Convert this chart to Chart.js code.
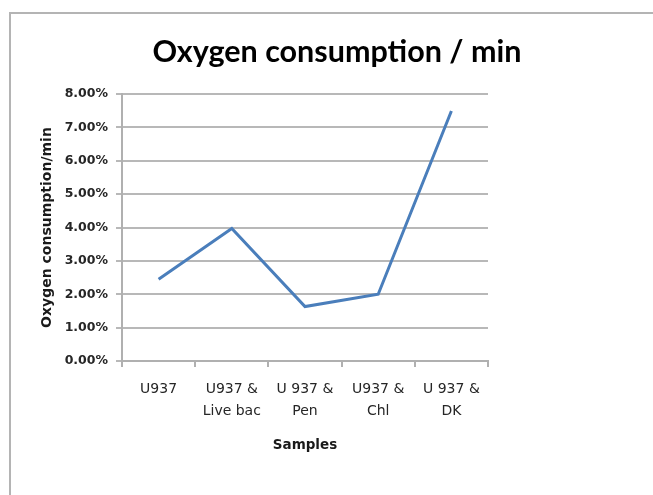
<!DOCTYPE html>
<html>
<head>
<meta charset="utf-8">
<script src="https://cdn.jsdelivr.net/npm/chart.js@4"></script>
<style>
  html, body { margin: 0; padding: 0; background: #fff; }
  #wrap { position: relative; width: 653px; height: 495px; }
  #frame { position: absolute; left: 9px; top: 12px; right: -4px; bottom: -4px; border: 2px solid #b4b4b4; }
  canvas { position: absolute; left: 0; top: 0; }
</style>
</head>
<body>
<div id="wrap">
  <div id="frame"></div>
  <canvas id="chart" width="653" height="495"></canvas>
</div>
<script>
// Samples and measured oxygen consumption (percent per minute)
const samples = ["U937", ["U937 &", "Live bac"], ["U 937 &", "Pen"], ["U937 &", "Chl"], ["U 937 &", "DK"]];
const consumption = [2.45, 3.97, 1.63, 2.0, 7.49];
const yTicks = [0, 1, 2, 3, 4, 5, 6, 7, 8];
const chartTitle = 'Oxygen consumption / min';

const labelFont = "'DejaVu Sans', sans-serif";

// title centred over the whole frame rather than over the chart box
const titlePlugin = {
    id: 'frameTitle',
    afterDraw(chart) {
        const ctx = chart.ctx;
        ctx.save();
        ctx.font = "bold 30.5px Lato, sans-serif";
        ctx.fillStyle = '#000';
        ctx.textAlign = 'center';
        ctx.textBaseline = 'alphabetic';
        ctx.fillText(chartTitle, 337, 62);
        ctx.restore();
    }
};

new Chart(document.getElementById("chart").getContext("2d"), {
    type: 'line',
    data: {
        labels: samples,
        datasets: [{
            label: 'Oxygen consumption/min',
            data: consumption,
            borderColor: '#4a7ebb',
            borderWidth: 3,
            pointRadius: 0,
            tension: 0,
            fill: false
        }]
    },
    options: {
        responsive: false,
        animation: false,
        layout: { padding: { left: 35, right: 165, top: 94, bottom: 37 } },
        scales: {
            x: {
                offset: true,
                grid: { offset: true, drawOnChartArea: false, drawTicks: true, tickLength: 6, color: '#b0b0b0', lineWidth: 2 },
                border: { color: '#b0b0b0', width: 2 },
                ticks: { color: '#262626', font: { family: labelFont, size: 14, lineHeight: 1.6 }, padding: 11, maxRotation: 0, autoSkip: false },
                title: { display: true, text: 'Samples', color: '#1a1a1a', font: { family: labelFont, size: 13.5, weight: 'bold' }, padding: { top: 0, bottom: 4 } },
                afterFit: scale => { scale.height = 97; }
            },
            y: {
                min: 0,
                max: 8,
                afterBuildTicks: scale => { scale.ticks = yTicks.map(v => ({ value: v })); },
                grid: { color: '#b8b8b8', lineWidth: 2, tickLength: 6 },
                border: { color: '#b0b0b0', width: 2 },
                ticks: {
                    color: '#262626',
                    font: { family: labelFont, size: 12.5, weight: 'bold' },
                    padding: 8,
                    callback: v => v.toFixed(2) + '%'
                },
                title: { display: true, text: 'Oxygen consumption/min', color: '#1a1a1a', font: { family: labelFont, size: 14, weight: 'bold' }, padding: { top: 4, bottom: 0 } },
                afterFit: scale => { scale.width = 87; }
            }
        },
        plugins: {
            legend: { display: false },
            tooltip: { enabled: false },
            title: { display: false }
        }
    },
    plugins: [titlePlugin]
});
</script>
</body>
</html>
